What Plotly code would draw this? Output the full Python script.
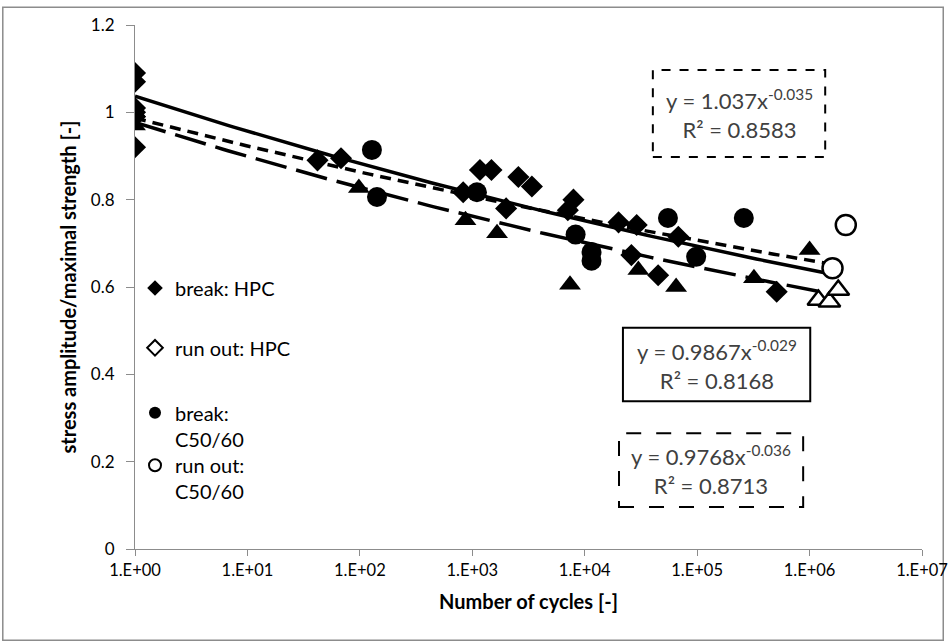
import numpy as np
import plotly.graph_objects as go

# ---- data ----
hpc_break_n = [1, 1, 1, 1, 1, 1, 42, 68, 830, 1170, 1480, 2570, 3390, 2000, 7940, 7080,
               20000, 29000, 26000, 45000, 68000, 510000]
hpc_break_v = [1.09, 1.07, 1.01, 1.00, 0.99, 0.92, 0.89, 0.895, 0.817, 0.868, 0.868, 0.852, 0.83, 0.78,
               0.80, 0.776, 0.748, 0.742, 0.673, 0.627, 0.715, 0.589]

c50_break_n = [128, 142, 1100, 8300, 11500, 11500, 55000, 260000, 98000]
c50_break_v = [0.914, 0.806, 0.817, 0.72, 0.68, 0.66, 0.758, 0.758, 0.669]
c50_run_n = [1600000, 2100000]
c50_run_v = [0.643, 0.742]

tri_break_n = [1, 1, 98, 870, 1660, 7400, 30000, 65000, 320000, 1000000]
tri_break_v = [1.0, 0.97, 0.827, 0.753, 0.723, 0.605, 0.639, 0.60, 0.62, 0.685]
tri_run_n = [1200000, 1500000, 1800000]
tri_run_v = [0.57, 0.566, 0.593]

# power trend lines y = a * x^b  (coefficients shown on the chart)
fits = [
    dict(a=1.037, b=-0.035, r2=0.8583, dash="solid", xmax=1.4e6),
    dict(a=0.9867, b=-0.029, r2=0.8168, dash="11px,7px", xmax=1.6e6),
    dict(a=0.9768, b=-0.036, r2=0.8713, dash="32px,10px", xmax=1.6e6),
]

x_tickvals = [1, 10, 100, 1e3, 1e4, 1e5, 1e6, 1e7]
x_ticktext = ["1.E+00", "1.E+01", "1.E+02", "1.E+03", "1.E+04", "1.E+05", "1.E+06", "1.E+07"]
y_tickvals = [0, 0.2, 0.4, 0.6, 0.8, 1.0, 1.2]
y_ticktext = ["0", "0.2", "0.4", "0.6", "0.8", "1", "1.2"]

FONT = "Lato"
TXT = "#404040"

fig = go.Figure()

# filled markers
fig.add_trace(go.Scatter(x=tri_break_n, y=tri_break_v, mode="markers", showlegend=False,
                         marker=dict(symbol="triangle-up", size=19, color="black")))
fig.add_trace(go.Scatter(x=c50_break_n, y=c50_break_v, mode="markers", name="break:<br>C50/60",
                         legend="legend3",
                         marker=dict(symbol="circle", size=20, color="black")))
fig.add_trace(go.Scatter(x=hpc_break_n, y=hpc_break_v, mode="markers", name="break: HPC",
                         legend="legend",
                         marker=dict(symbol="diamond", size=17, color="black")))

# trend lines
for f in fits:
    xs = np.logspace(0, np.log10(f["xmax"]), 120)
    ys = f["a"] * xs ** f["b"]
    fig.add_trace(go.Scatter(x=xs, y=ys, mode="lines", showlegend=False, hoverinfo="skip",
                             line=dict(color="black", width=3.5, dash=f["dash"])))

# open markers (run outs)
fig.add_trace(go.Scatter(x=[None], y=[None], mode="markers", name="run out: HPC",
                         legend="legend2",
                         marker=dict(symbol="diamond", size=15, color="white",
                                     line=dict(color="black", width=3))))
fig.add_trace(go.Scatter(x=tri_run_n, y=tri_run_v, mode="markers", showlegend=False,
                         marker=dict(symbol="triangle-up", size=19, color="white",
                                     line=dict(color="black", width=2.5))))
fig.add_trace(go.Scatter(x=c50_run_n, y=c50_run_v, mode="markers", name="run out:<br>C50/60",
                         legend="legend4",
                         marker=dict(symbol="circle", size=20, color="white",
                                     line=dict(color="black", width=2.5))))

# equation boxes
boxes = [
    dict(fit=fits[0], x0=0.658, x1=0.877, y0=0.748, y1=0.914, dash="dash"),
    dict(fit=fits[1], x0=0.620, x1=0.858, y0=0.282, y1=0.422, dash="solid"),
    dict(fit=fits[2], x0=0.615, x1=0.849, y0=0.080, y1=0.221, dash="longdash"),
]
shapes = []
annotations = []
for bx in boxes:
    f = bx["fit"]
    shapes.append(dict(type="rect", xref="paper", yref="paper", x0=bx["x0"], x1=bx["x1"],
                       y0=bx["y0"], y1=bx["y1"], line=dict(color="black", width=2, dash=bx["dash"]),
                       fillcolor="rgba(0,0,0,0)", layer="above"))
    annotations.append(dict(xref="paper", yref="paper", x=(bx["x0"] + bx["x1"]) / 2,
                            y=(bx["y0"] + bx["y1"]) / 2, xanchor="center", yanchor="middle",
                            showarrow=False,
                            text=f"y = {f['a']}x<sup>{f['b']}</sup><br>R² = {f['r2']}",
                            font=dict(family=FONT, size=22, color=TXT), align="center"))

# outer chart border
shapes.append(dict(type="rect", xref="paper", yref="paper", x0=-0.168, x1=1.027, y0=-0.174, y1=1.034,
                   line=dict(color="#8c8c8c", width=1.5), layer="below"))

leg_common = dict(x=0.0, xanchor="left", yanchor="middle", bgcolor="rgba(0,0,0,0)",
                  font=dict(family=FONT, size=20, color="black"), itemsizing="constant",
                  valign="top", borderwidth=0)

fig.update_layout(
    width=948, height=643,
    margin=dict(l=135, r=26, t=25, b=94, autoexpand=False),
    paper_bgcolor="white", plot_bgcolor="white",
    font=dict(family=FONT, color=TXT),
    shapes=shapes, annotations=annotations,
    legend=dict(y=0.498, **leg_common),
    legend2=dict(y=0.384, **leg_common),
    legend3=dict(y=0.235, **leg_common),
    legend4=dict(y=0.135, **leg_common),
    xaxis=dict(type="log", range=[0, 7], tickvals=x_tickvals, ticktext=x_ticktext,
               automargin=False, ticklabeloverflow="allow",
               showgrid=False, zeroline=False, showline=True, linecolor="#8c8c8c", linewidth=1,
               ticks="outside", ticklen=6, tickcolor="#8c8c8c",
               tickfont=dict(family=FONT, size=16.5, color="black"),
               title=dict(text="<b>Number of cycles [-]</b>", font=dict(family=FONT, size=20, color="black"),
                          standoff=16)),
    yaxis=dict(range=[0, 1.2], tickvals=y_tickvals, ticktext=y_ticktext, automargin=False,
               showgrid=False, zeroline=False, showline=True, linecolor="#8c8c8c", linewidth=1,
               ticks="outside", ticklen=8, tickcolor="#8c8c8c", ticklabelstandoff=8,
               tickfont=dict(family=FONT, size=17, color="black"),
               title=dict(text="<b>stress amplitude/maximal strength [-]</b>",
                          font=dict(family=FONT, size=20, color="black"), standoff=8)),
)

fig.write_html("out.html", config={"displayModeBar": False},
               post_script="document.body.style.margin='0px';document.body.style.overflow='hidden';")
